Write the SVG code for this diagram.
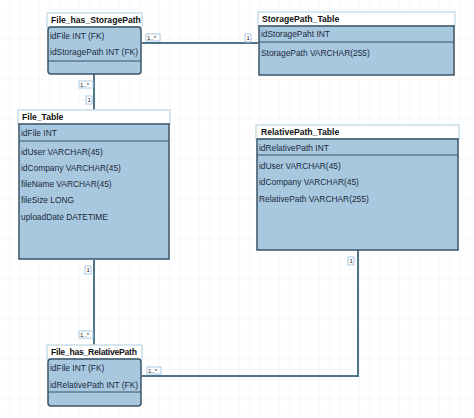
<svg xmlns="http://www.w3.org/2000/svg" width="474" height="418" viewBox="0 0 474 418">
<defs>
<style>
.t{font-family:"Liberation Sans",Arial,sans-serif;font-size:8.4px;fill:#1a2a3a}
.h{font-family:"Liberation Sans",Arial,sans-serif;font-size:8.6px;font-weight:bold;fill:#111}
.ttl{fill:#fff;stroke:#c9dde9;stroke-width:1.5}
.bd{fill:#a8c8e0;stroke:#3b5366;stroke-width:1.5}
.dv{stroke:#3b5366;stroke-width:1}
.ln{fill:none;stroke:#4d7488;stroke-width:2}
.lb{fill:#fff;stroke:#a8c8e0;stroke-width:1}
.lt{font-family:"Liberation Sans",Arial,sans-serif;font-size:6px;fill:#222}
</style>
<pattern id="g" width="10" height="10" patternUnits="userSpaceOnUse"><path d="M10 0V10H0" fill="none" stroke="#ececec" stroke-width="0.6"/></pattern>
</defs>
<rect width="474" height="418" fill="#fff"/>
<rect width="474" height="418" fill="url(#g)"/>
<g id="connectors">
<path class="ln" d="M142 43H258"/>
<path class="ln" d="M94 74V110"/>
<path class="ln" d="M94 260V345"/>
<path class="ln" d="M142 376H358V250"/>
<rect class="lb" x="146" y="34" width="14" height="7"/><text class="lt" x="147" y="40">1..*</text>
<rect class="lb" x="245" y="34" width="6" height="8"/><text class="lt" x="246.5" y="40">1</text>
<rect class="lb" x="79" y="81" width="14" height="7"/><text class="lt" x="80" y="87">1..*</text>
<rect class="lb" x="86" y="96" width="6" height="8"/><text class="lt" x="87.5" y="102">1</text>
<rect class="lb" x="85" y="266" width="6" height="8"/><text class="lt" x="86.5" y="272">1</text>
<rect class="lb" x="79" y="331" width="14" height="7"/><text class="lt" x="80" y="337">1..*</text>
<rect class="lb" x="147" y="367" width="14" height="7"/><text class="lt" x="148" y="373">1..*</text>
<rect class="lb" x="348" y="257" width="6" height="8"/><text class="lt" x="349.5" y="263">1</text>
</g>
<g id="File_has_StoragePath">
<rect class="ttl" x="47" y="13" width="95" height="14"/>
<text class="h" x="51" y="23">File_has_StoragePath</text>
<rect class="bd" x="48" y="27" width="93" height="47" rx="3"/>
<line class="dv" x1="48" y1="61" x2="141" y2="61"/>
<text class="t" x="50" y="39">idFile INT (FK)</text>
<text class="t" x="50" y="55" textLength="88">idStoragePath INT (FK)</text>
</g>
<g id="StoragePath_Table">
<rect class="ttl" x="258" y="12" width="197" height="14"/>
<text class="h" x="262" y="22">StoragePath_Table</text>
<rect class="bd" x="259" y="26" width="195" height="49"/>
<line class="dv" x1="259" y1="42" x2="454" y2="42"/>
<text class="t" x="261" y="37">idStoragePaht INT</text>
<text class="t" x="261" y="56">StoragePath VARCHAR(255)</text>
</g>
<g id="File_Table">
<rect class="ttl" x="18" y="110" width="152" height="14"/>
<text class="h" x="22" y="120">File_Table</text>
<rect class="bd" x="19" y="124" width="150" height="135"/>
<line class="dv" x1="19" y1="141" x2="169" y2="141"/>
<text class="t" x="21" y="136">idFile INT</text>
<text class="t" x="21" y="155">idUser VARCHAR(45)</text>
<text class="t" x="21" y="171">idCompany VARCHAR(45)</text>
<text class="t" x="21" y="187">fileName VARCHAR(45)</text>
<text class="t" x="21" y="203">fileSize LONG</text>
<text class="t" x="21" y="220">uploadDate DATETIME</text>
</g>
<g id="RelativePath_Table">
<rect class="ttl" x="256" y="125" width="203" height="14"/>
<text class="h" x="261" y="135">RelativePath_Table</text>
<rect class="bd" x="257" y="139" width="201" height="111"/>
<line class="dv" x1="257" y1="155" x2="458" y2="155"/>
<text class="t" x="259" y="151">idRelativePath INT</text>
<text class="t" x="259" y="169">idUser VARCHAR(45)</text>
<text class="t" x="259" y="185">idCompany VARCHAR(45)</text>
<text class="t" x="259" y="202">RelativePath VARCHAR(255)</text>
</g>
<g id="File_has_RelativePath">
<rect class="ttl" x="47" y="345" width="95" height="14"/>
<text class="h" x="51" y="355" textLength="86">File_has_RelativePath</text>
<rect class="bd" x="48" y="359" width="93" height="47" rx="3"/>
<line class="dv" x1="48" y1="392" x2="141" y2="392"/>
<text class="t" x="50" y="371">idFile INT (FK)</text>
<text class="t" x="50" y="388" textLength="88">idRelativePath INT (FK)</text>
</g>
</svg>
